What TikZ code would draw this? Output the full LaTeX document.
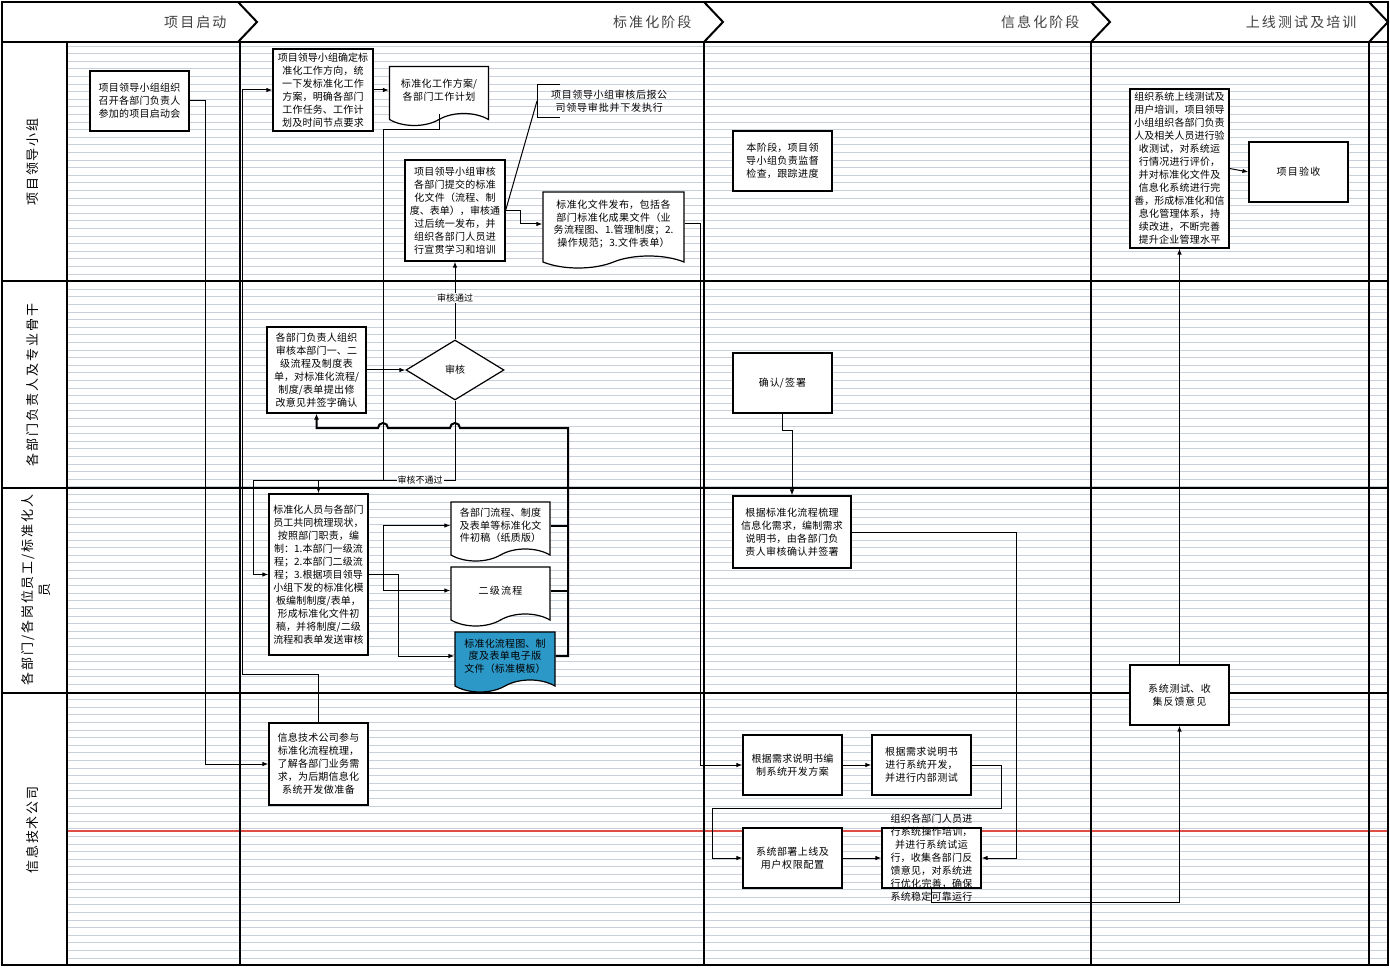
\documentclass[tikz,border=0pt]{standalone}
\usepackage{fontspec}
\setmainfont{Noto Sans CJK SC}
\newfontfamily\hdfont[LetterSpace=15]{Noto Sans CJK SC}
\XeTeXlinebreaklocale "zh"
\XeTeXlinebreakskip = 0pt plus 1pt
\usetikzlibrary{shapes.geometric,shapes.symbols,arrows.meta}

\definecolor{docblue}{RGB}{44,152,200}
\definecolor{rulegray}{RGB}{202,208,218}
\definecolor{redline}{RGB}{222,78,68}

\tikzset{
  box/.style={draw, line width=1.2pt, fill=white, rectangle, minimum width=99pt,
    minimum height=60pt, text width=91pt, align=center, inner xsep=3pt, inner ysep=2pt,
    font=\fontsize{10}{13}\selectfont},
  docbox/.style={draw, line width=1.2pt, fill=white, tape, tape bend top=none,
    tape bend height=12pt, minimum width=99pt, minimum height=59pt, text width=91pt,
    align=center, inner sep=2pt, font=\fontsize{10}{12.5}\selectfont},
  arr/.style={line width=1pt, -{Latex[length=6pt,width=4.5pt]}},
  link/.style={line width=1pt},
  backline/.style={line width=2pt},
  lane/.style={line width=2pt},
  ruling/.style={rulegray, line width=0.8pt},
  tag/.style={fill=white, inner sep=1pt, font=\fontsize{9}{10}\selectfont},
  phase/.style={anchor=east, font=\hdfont\fontsize{14}{16}\selectfont, text=black!75},
  lanename/.style={rotate=90, align=center, font=\hdfont\fontsize{13}{17}\selectfont}
}

\begin{document}
\begin{tikzpicture}[x=1pt, y=-1pt]

    % Fix the page size
    \useasboundingbox (0,0) rectangle (1390,968);

    % Draw the ruled background of the lanes
    \foreach \y in {46,53.6,...,962} {
        \draw[ruling] (67,\y) -- (1388,\y);
    }
    \draw[redline, line width=1.5pt] (67,831) -- (1388,831);

    % Draw the frame, the lanes and the phases
    \draw[lane] (2,2) rectangle (1388,965);
    \foreach \y in {42,281,488,693} {
        \draw[lane] (2,\y) -- (1388,\y);
    }
    \draw[line width=1.2pt] (67,42) -- (67,965);
    \foreach \x in {240,704,1091,1369} {
        \draw[lane] (\x,42) -- (\x,965);
    }
    \foreach \x in {238,704,1091,1369} {
        \draw[lane] (\x,2) -- (\x+19,22) -- (\x,42);
    }

    % Phase titles
    \node[phase] (p1) at (230,22) {项目启动};
    \node[phase] (p2) at (695,22) {标准化阶段};
    \node[phase] (p3) at (1083,22) {信息化阶段};
    \node[phase] (p4) at (1360,22) {上线测试及培训};

    % Lane titles
    \node[lanename] (l1) at (33,162) {项目领导小组};
    \node[lanename] (l2) at (33,385) {各部门负责人及专业骨干};
    \node[lanename] (l3) at (36,590) {各部门/各岗位员工/标准化人\\员};
    \node[lanename] (l4) at (33,830) {信息技术公司};

    % Project start
    \node[box] (start) at (139.5,101) {项目领导小组组织召开各部门负责人参加的项目启动会};

    % Standardisation phase, leading group
    \node[box, minimum width=100pt, minimum height=82pt] (plan) at (323,90)
        {项目领导小组确定标准化工作方向，统一下发标准化工作方案，明确各部门工作任务、工作计划及时间节点要求};
    \node[docbox] (plandoc) at (439,90) {标准化工作方案/各部门工作计划};
    \node[box, minimum width=100pt, minimum height=101pt] (audit) at (455,210.5)
        {项目领导小组审核各部门提交的标准化文件（流程、制度、表单），审核通过后统一发布，并组织各部门人员进行宣贯学习和培训};
    \node[docbox, minimum width=141pt, minimum height=76pt, text width=133pt] (release) at (613.5,224)
        {标准化文件发布，包括各部门标准化成果文件（业务流程图、1.管理制度；2.操作规范；3.文件表单）};
    \node[anchor=west, text width=140pt, align=center, minimum height=32pt, inner sep=2pt,
        font=\fontsize{10}{13}\selectfont] (note) at (537,101)
        {项目领导小组审核后报公司领导审批并下发执行};
    \draw[link] ([xshift=23pt]note.north west) -- (note.north west)
        -- (note.south west) -- ([xshift=23pt]note.south west);

    % Standardisation phase, department heads
    \node[box, minimum height=86pt] (review) at (316.5,370)
        {各部门负责人组织审核本部门一、二级流程及制度表单，对标准化流程/制度/表单提出修改意见并签字确认};
    \node[diamond, draw, line width=1.2pt, fill=white, minimum width=98pt, minimum height=60pt,
        inner sep=0pt, font=\fontsize{10}{12}\selectfont] (check) at (455,370) {审核};

    % Standardisation phase, staff
    \node[box, minimum height=161pt] (draft) at (318.5,574.5)
        {标准化人员与各部门员工共同梳理现状，按照部门职责，编制：1.本部门一级流程；2.本部门二级流程；3.根据项目领导小组下发的标准化模板编制制度/表单，形成标准化文件初稿，并将制度/二级流程和表单发送审核};
    \node[docbox] (drafts) at (500.5,525.5) {各部门流程、制度及表单等标准化文件初稿（纸质版）};
    \node[docbox] (flow2) at (500.5,590.5) {二级流程};
    \node[docbox, fill=docblue, minimum width=100pt, minimum height=60pt] (edoc) at (505,656)
        {标准化流程图、制度及表单电子版文件（标准模板）};

    % Standardisation phase, IT company
    \node[box, minimum height=82pt] (itjoin) at (318.5,764)
        {信息技术公司参与标准化流程梳理，了解各部门业务需求，为后期信息化系统开发做准备};

    % Informatisation phase
    \node[box] (watch) at (782.5,161) {本阶段，项目领导小组负责监督检查，跟踪进度};
    \node[box] (sign) at (782.5,383) {确认/签署};
    \node[box, minimum width=118pt, minimum height=72pt, text width=110pt] (needs) at (792,532)
        {根据标准化流程梳理信息化需求，编制需求说明书，由各部门负责人审核确认并签署};
    \node[box] (design) at (792.5,765) {根据需求说明书编制系统开发方案};
    \node[box] (develop) at (921.5,765) {根据需求说明书进行系统开发，并进行内部测试};
    \node[box] (deploy) at (792.5,858) {系统部署上线及用户权限配置};
    \node[box] (train) at (931.5,858) {};
    \node[text width=93pt, align=center, font=\fontsize{10}{13}\selectfont] (traintext) at (train)
        {组织各部门人员进行系统操作培训，并进行系统试运行，收集各部门反馈意见，对系统进行优化完善，确保系统稳定可靠运行};

    % Go-live phase
    \node[box, minimum height=159pt, inner ysep=1pt] (golive) at (1179.5,168.5)
        {组织系统上线测试及用户培训，项目领导小组组织各部门负责人及相关人员进行验收测试，对系统运行情况进行评价，并对标准化文件及信息化系统进行完善，形成标准化和信息化管理体系，持续改进，不断完善提升企业管理水平};
    \node[box] (accept) at (1298.5,172) {项目验收};
    \node[box] (feedback) at (1179.5,695) {系统测试、收集反馈意见};

    % Connectors of the standardisation phase
    \draw[arr] (start.east) -- ++(16,0) |- (itjoin.west);
    \draw[arr] (itjoin.north) -- ++(0,-48) -| ([xshift=-30pt]plan.west) -- (plan.west);
    \draw[arr] (plan.east) -- (plandoc.west);
    \draw[link] (audit.east) -- (note.west);
    \draw[arr] (audit.east) -- ++(15,0) |- (release.west);
    \draw[arr] (release.east) -- ++(16,0) |- (design.west);
    \draw[arr] (review.east) -- (check.west);
    \draw[arr] (check.north) -- (audit.south);

    % Rejected drafts go back to the staff
    \coordinate (reject) at (455,480);
    \draw[arr] (check.south) -- (reject) -| (draft.north);
    \draw[arr] (reject) -- (253,480) |- (draft.west);
    \draw[link] (plandoc.south) -- ++(0,15) -| (383,480);

    % Drafts are handed out and sent back for review
    \draw[arr] (draft.east) -- ++(15,0) |- (drafts.west);
    \draw[arr] (draft.east) -- ++(15,0) |- (flow2.west);
    \draw[arr] (draft.east) -- ++(30,0) |- (edoc.west);
    \coordinate (ret) at (568,428);
    \draw[backline] (drafts.east) -- (drafts.east -| ret);
    \draw[backline] (flow2.east) -- (flow2.east -| ret);
    \draw[backline, -{Latex[length=6pt,width=5pt]}] (edoc.east) -| (ret) -- (460,428)
        arc[start angle=0, end angle=-180, radius=5] -- (388,428)
        arc[start angle=0, end angle=-180, radius=5] -- (316.5,428) -- (review.south);

    % Connectors of the informatisation phase
    \draw[arr] (sign.south) -- ++(0,17) -| (needs.north);
    \draw[arr] (needs.east) -| ([xshift=35pt]train.east) -- (train.east);
    \draw[arr] (design.east) -- (develop.west);
    \draw[arr] (develop.east) -- ++(30,0) -- ++(0,43) -| ([xshift=-30pt]deploy.west) -- (deploy.west);
    \draw[arr] (deploy.east) -- (train.west);

    % Connectors of the go-live phase
    \draw[arr] (train.south) -- ++(0,14) -| (feedback.south);
    \draw[arr] (feedback.north) -- (golive.south);
    \draw[arr] (golive.east) -- (accept.west);

    % Connector labels
    \node[tag] (passlab) at (455,298) {审核通过};
    \node[tag] (faillab) at (420,480) {审核不通过};

\end{tikzpicture}
\end{document}
